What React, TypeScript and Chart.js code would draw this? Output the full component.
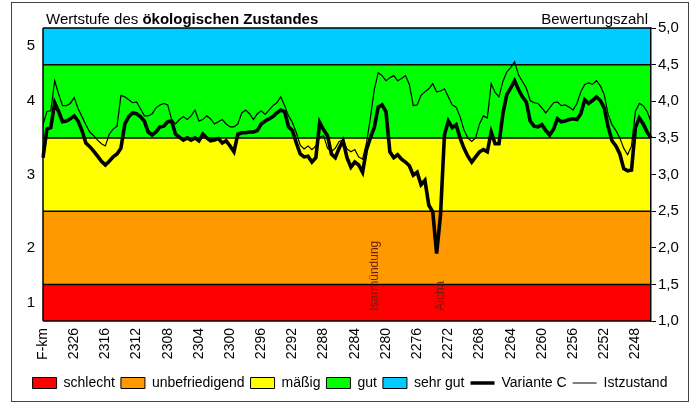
import React, { useEffect, useRef } from 'react';
import { Chart, registerables } from 'chart.js';

Chart.register(...registerables);

// Fluss-km tick labels (one label every 8 data points, first slot is the axis unit)
const kmLabels = ['F-km', '2326', '2316', '2312', '2308', '2304', '2300', '2296', '2292', '2288', '2284', '2280', '2276', '2272', '2268', '2264', '2260', '2256', '2252', '2248'];
const pointsPerLabel = 8;

// Bewertungszahl – Variante C (thick line)
const variantC = [
  3.23, 3.62, 3.64, 3.98, 3.86, 3.72, 3.73, 3.76, 3.80, 3.73,
  3.60, 3.43, 3.38, 3.32, 3.25, 3.18, 3.13, 3.18, 3.24, 3.28,
  3.36, 3.69, 3.79, 3.84, 3.83, 3.79, 3.73, 3.58, 3.54, 3.58,
  3.65, 3.66, 3.72, 3.73, 3.55, 3.51, 3.47, 3.50, 3.47, 3.50,
  3.46, 3.55, 3.50, 3.46, 3.47, 3.49, 3.43, 3.46, 3.39, 3.31,
  3.55, 3.57, 3.57, 3.58, 3.58, 3.60, 3.69, 3.73, 3.76, 3.79,
  3.84, 3.88, 3.86, 3.65, 3.60, 3.43, 3.28, 3.24, 3.25, 3.17,
  3.23, 3.71, 3.61, 3.53, 3.28, 3.23, 3.36, 3.46, 3.23, 3.10,
  3.17, 3.13, 3.03, 3.34, 3.50, 3.64, 3.92, 3.95, 3.86, 3.31,
  3.23, 3.27, 3.21, 3.17, 3.12, 2.99, 3.03, 2.86, 2.92, 2.58,
  2.49, 1.92, 2.45, 3.54, 3.73, 3.64, 3.68, 3.50, 3.36, 3.25,
  3.17, 3.24, 3.31, 3.34, 3.31, 3.58, 3.42, 3.42, 3.83, 4.09,
  4.18, 4.28, 4.16, 4.06, 3.99, 3.73, 3.66, 3.65, 3.68, 3.60,
  3.54, 3.62, 3.76, 3.72, 3.73, 3.75, 3.76, 3.75, 3.83, 4.02,
  3.97, 4.01, 4.06, 4.01, 3.91, 3.65, 3.46, 3.39, 3.28, 3.08,
  3.05, 3.06, 3.64, 3.77, 3.69, 3.58, 3.50,
];

// Bewertungszahl – Istzustand (thin line)
const istzustand = [
  3.68, 3.86, 3.87, 4.28, 4.10, 3.94, 3.94, 3.97, 4.05, 3.90,
  3.79, 3.68, 3.58, 3.53, 3.47, 3.42, 3.39, 3.55, 3.62, 3.66,
  4.08, 4.06, 4.02, 3.98, 3.99, 3.90, 3.80, 3.80, 3.83, 3.91,
  3.95, 3.97, 3.95, 3.75, 3.69, 3.75, 3.79, 3.75, 3.80, 3.88,
  3.73, 3.75, 3.80, 3.76, 3.69, 3.72, 3.75, 3.69, 3.65, 3.65,
  3.69, 3.84, 3.88, 3.83, 3.75, 3.83, 3.87, 3.82, 3.88, 3.94,
  3.98, 4.06, 3.94, 3.80, 3.71, 3.57, 3.40, 3.35, 3.39, 3.34,
  3.39, 3.51, 3.53, 3.36, 3.31, 3.36, 3.45, 3.47, 3.35, 3.31,
  3.34, 3.24, 3.21, 3.43, 3.77, 4.16, 4.39, 4.35, 4.28, 4.32,
  4.35, 4.28, 4.31, 4.35, 4.23, 3.94, 3.95, 4.08, 4.13, 4.17,
  4.24, 4.13, 4.14, 4.17, 4.06, 3.95, 3.92, 3.79, 3.61, 3.50,
  3.45, 3.50, 3.69, 3.80, 3.77, 4.24, 4.12, 4.06, 4.27, 4.40,
  4.46, 4.54, 4.36, 4.27, 4.18, 4.01, 3.98, 3.97, 3.91, 3.84,
  3.91, 3.98, 3.99, 3.94, 3.95, 3.92, 3.88, 3.97, 4.13, 4.23,
  4.25, 4.23, 4.28, 4.21, 4.09, 3.82, 3.68, 3.60, 3.50, 3.36,
  3.27, 3.39, 3.86, 3.97, 3.94, 3.86, 3.72,
];

// Quality classes (Wertstufen)
const bandNames = ['schlecht', 'unbefriedigend', 'mäßig', 'gut', 'sehr gut'];
const bandColors = ['#ff0000', '#ff9900', '#ffff00', '#00ff00', '#00ccff'];
const bandLower = [1.0, 1.5, 2.5, 3.5, 4.5];
const bandUpper = [1.5, 2.5, 3.5, 4.5, 5.0];

// Left axis: class number shown in the middle of each class band
const classTickValues = [1.25, 2, 3, 4, 4.75];
const classTickLabels = ['1', '2', '3', '4', '5'];

// River markers (category index along the axis)
const markerNames = ['Isarmündung', 'Aicha'];
const markerIndex = [85, 102];

const FONT = "'Liberation Sans', Arial, Helvetica, sans-serif";

const categories = variantC.map((_, i) =>
  i % pointsPerLabel === 0 ? (kmLabels[i / pointsPerLabel] ?? '') : ''
);

const bandsPlugin = {
  id: 'bands',
  beforeDraw(chart: any) {
    const { ctx, chartArea } = chart;
    const y = chart.scales.y;
    const { left, right } = chartArea;
    ctx.save();
    bandLower.forEach((lo, i) => {
      const yTop = y.getPixelForValue(bandUpper[i]);
      const yBot = y.getPixelForValue(lo);
      ctx.fillStyle = bandColors[i];
      ctx.fillRect(left, yTop, right - left, yBot - yTop);
    });
    ctx.strokeStyle = '#000';
    ctx.lineWidth = 1.5;
    const bounds = [...bandLower, bandUpper[bandUpper.length - 1]];
    bounds.forEach((b) => {
      const py = y.getPixelForValue(b);
      ctx.beginPath();
      ctx.moveTo(left, py);
      ctx.lineTo(right, py);
      ctx.stroke();
    });
    ctx.beginPath();
    ctx.moveTo(left, y.getPixelForValue(5));
    ctx.lineTo(left, y.getPixelForValue(1));
    ctx.stroke();
    ctx.restore();
  },
};

const markersPlugin = {
  id: 'markers',
  afterDatasetsDraw(chart: any) {
    const { ctx } = chart;
    const x = chart.scales.x;
    const y = chart.scales.y;
    ctx.save();
    ctx.font = `12px ${FONT}`;
    ctx.fillStyle = '#6e1e0c';
    ctx.textAlign = 'left';
    ctx.textBaseline = 'middle';
    markerNames.forEach((name, i) => {
      const px = x.getPixelForValue(markerIndex[i]);
      const py = y.getPixelForValue(1.14);
      ctx.save();
      ctx.translate(px, py);
      ctx.rotate(-Math.PI / 2);
      ctx.fillText(name, 0, 0);
      ctx.restore();
    });
    ctx.restore();
  },
};

const framePlugin = {
  id: 'frame',
  afterDraw(chart: any) {
    const { ctx, chartArea } = chart;
    ctx.save();
    ctx.strokeStyle = '#444';
    ctx.lineWidth = 1;
    ctx.strokeRect(11.5, 2.5, 677, 399);
    ctx.fillStyle = '#000';
    ctx.textBaseline = 'alphabetic';
    ctx.textAlign = 'left';
    ctx.font = `15px ${FONT}`;
    const part1 = 'Wertstufe des ';
    const tx = chartArea.left + 3;
    const ty = chartArea.top - 4;
    ctx.fillText(part1, tx, ty);
    const w1 = ctx.measureText(part1).width;
    ctx.font = `bold 15px ${FONT}`;
    ctx.fillText('ökologischen Zustandes', tx + w1, ty);
    ctx.font = `15px ${FONT}`;
    ctx.textAlign = 'right';
    ctx.fillText('Bewertungszahl', chartArea.right - 3, ty);
    ctx.restore();
  },
};

export default function App() {
  const ref = useRef<HTMLCanvasElement>(null);

  useEffect(() => {
    document.body.style.margin = '0';
    const canvas = ref.current;
    if (!canvas) return;

    const legendItems = [
      ...bandNames.map((name, i) => ({
        text: name,
        fillStyle: bandColors[i],
        strokeStyle: '#000',
        lineWidth: 1,
        pointStyle: 'rect',
        hidden: false,
        fontColor: '#000',
      })),
      { text: 'Variante C', fillStyle: '#000', strokeStyle: '#000', lineWidth: 3.5, pointStyle: 'line', hidden: false, fontColor: '#000' },
      { text: 'Istzustand', fillStyle: '#000', strokeStyle: '#000', lineWidth: 1, pointStyle: 'line', hidden: false, fontColor: '#000' },
    ];

    const chart = new Chart(canvas, {
      type: 'line',
      data: {
        labels: categories,
        datasets: [
          {
            label: 'Variante C',
            data: variantC,
            borderColor: '#000',
            backgroundColor: '#000',
            borderWidth: 3.6,
            pointRadius: 0,
            tension: 0,
            yAxisID: 'y',
          },
          {
            label: 'Istzustand',
            data: istzustand,
            borderColor: '#000',
            backgroundColor: '#000',
            borderWidth: 1.2,
            pointRadius: 0,
            tension: 0,
            yAxisID: 'y',
          },
        ],
      },
      options: {
        responsive: false,
        animation: false,
        devicePixelRatio: 1,
        events: [],
        layout: { padding: { top: 28, bottom: 6, left: 0, right: 0 } },
        scales: {
          x: {
            type: 'category',
            offset: false,
            grid: { display: false, drawTicks: false },
            border: { display: false },
            ticks: {
              autoSkip: false,
              maxRotation: 90,
              minRotation: 90,
              padding: 7,
              color: '#000',
              font: { family: FONT, size: 14 },
            },
            afterFit: (s: any) => {
              s.height = 49;
            },
          },
          y: {
            position: 'left',
            min: 1,
            max: 5,
            grid: { display: false, drawTicks: false },
            border: { display: false },
            afterBuildTicks: (s: any) => {
              s.ticks = classTickValues.map((v) => ({ value: v }));
            },
            ticks: {
              padding: 8,
              color: '#000',
              font: { family: FONT, size: 15 },
              callback: (_v: any, i: number) => classTickLabels[i],
            },
            afterFit: (s: any) => {
              s.width = 43;
            },
          },
          y2: {
            position: 'right',
            min: 1,
            max: 5,
            grid: { display: true, drawOnChartArea: false, color: '#000', tickLength: 5, lineWidth: 1 },
            border: { display: true, color: '#000', width: 1.5 },
            ticks: {
              stepSize: 0.5,
              padding: 2,
              color: '#000',
              font: { family: FONT, size: 15 },
              callback: (v: any) => Number(v).toFixed(1).replace('.', ','),
            },
            afterFit: (s: any) => {
              s.width = 49;
            },
          },
        },
        plugins: {
          tooltip: { enabled: false },
          title: { display: false },
          legend: {
            display: true,
            position: 'bottom',
            labels: {
              usePointStyle: true,
              pointStyleWidth: 24,
              boxHeight: 11,
              padding: 6,
              color: '#000',
              font: { family: FONT, size: 14 },
              generateLabels: () => legendItems as any,
            },
          },
        },
      },
      plugins: [bandsPlugin, markersPlugin, framePlugin],
    } as any);

    return () => chart.destroy();
  }, []);

  return (
    <div style={{ width: 700, height: 406 }}>
      <canvas ref={ref} width={700} height={406} style={{ display: 'block' }} />
    </div>
  );
}
